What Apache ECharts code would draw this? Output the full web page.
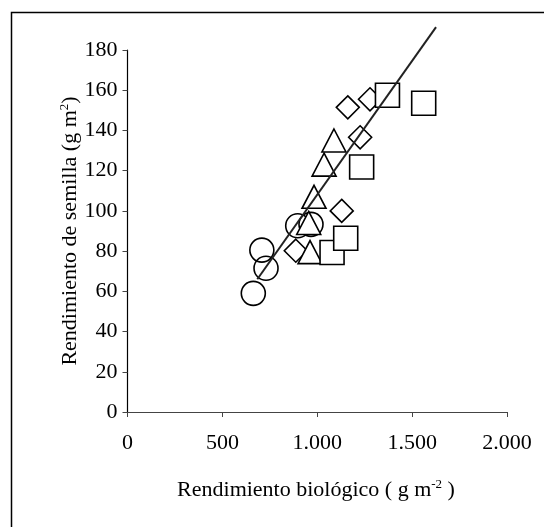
<!DOCTYPE html>
<html>
<head>
<meta charset="utf-8">
<script src="https://cdn.jsdelivr.net/npm/echarts@6/dist/echarts.min.js"></script>
<style>
  html, body { margin: 0; padding: 0; background: #fff; }
  #chart { width: 544px; height: 527px; }
</style>
</head>
<body>
<div id="chart"></div>
<script>
// points: [biological yield, seed yield]
const circles = [[663, 59], [708, 80.5], [730, 71.5], [897, 92.6], [967, 93.3]];
const triangles = [[962, 79.5], [955, 94], [983, 107], [1036, 123], [1088, 135]];
const diamonds = [[887, 80.2], [1129, 100], [1226, 136.6], [1161, 151.5], [1278, 155.5]];
const squares = [[1078, 79.3], [1150, 86.4], [1234, 121.8], [1370, 157.5], [1561, 153.5]];
const trendLine = [[684, 66], [1626, 191.4]];

const xTickLabels = ['0', '500', '1.000', '1.500', '2.000'];
const yTicks = [0, 20, 40, 60, 80, 100, 120, 140, 160, 180];

const serif = '"Liberation Serif", "DejaVu Serif", serif';

function markSeries(data, symbol, size, fill) {
  return {
    type: 'scatter',
    data: data,
    symbol: symbol,
    symbolSize: size,
    itemStyle: { color: fill, borderColor: '#000', borderWidth: 1.6, opacity: 1 },
    emphasis: { disabled: true },
  };
}

const titleRich = {
  a: { fontFamily: serif, fontSize: 22, fill: '#000' },
  s: { fontFamily: serif, fontSize: 13, fill: '#000', verticalAlign: 'top', padding: [0, 0, 10, 0] },
};

const chart = echarts.init(document.getElementById('chart'), null, { renderer: 'canvas' });

chart.setOption({
  backgroundColor: '#fff',
  animation: false,
  grid: { left: 127.5, right: 37, top: 50, bottom: 115 },
  xAxis: {
    type: 'value', min: 0, max: 2000, interval: 500,
    axisLine: { lineStyle: { color: '#444', width: 1.2 } },
    axisTick: { inside: false, length: 5, lineStyle: { color: '#444' } },
    axisLabel: {
      color: '#000', fontFamily: serif, fontSize: 22, margin: 20,
      formatter: (v) => xTickLabels[Math.round(v / 500)],
    },
    splitLine: { show: false },
  },
  yAxis: {
    type: 'value', min: yTicks[0], max: yTicks[yTicks.length - 1], interval: 20,
    axisLine: { show: true, lineStyle: { color: '#000', width: 1.2 } },
    axisTick: { show: true, length: 5, lineStyle: { color: '#444' } },
    axisLabel: { color: '#000', fontFamily: serif, fontSize: 22, margin: 10 },
    splitLine: { show: false },
  },
  series: [
    markSeries(circles, 'circle', 24, 'rgba(255,255,255,0)'),
    markSeries(diamonds, 'diamond', [23, 23], '#fff'),
    markSeries(triangles, 'triangle', [24, 23], '#fff'),
    markSeries(squares, 'rect', 24, '#fff'),
    {
      type: 'line',
      data: trendLine,
      clip: false,
      symbol: 'none',
      lineStyle: { color: '#222', width: 2 },
    },
  ],
  graphic: [
    {
      type: 'rect', left: 9, top: 10, silent: true,
      shape: { width: 600, height: 600 },
      style: { fill: 'none', stroke: '#000', lineWidth: 1.5 },
    },
    {
      type: 'text', x: 316, y: 490, silent: true,
      style: {
        text: '{a|Rendimiento biológico ( g m}{s|-2}{a| )}',
        align: 'center', verticalAlign: 'middle',
        rich: titleRich,
      },
    },
    {
      type: 'text', x: 70, y: 231, rotation: Math.PI / 2, silent: true,
      style: {
        text: '{a|Rendimiento de semilla (g m}{s|2}{a|)}',
        align: 'center', verticalAlign: 'middle',
        rich: titleRich,
      },
    },
  ],
});
</script>
</body>
</html>
